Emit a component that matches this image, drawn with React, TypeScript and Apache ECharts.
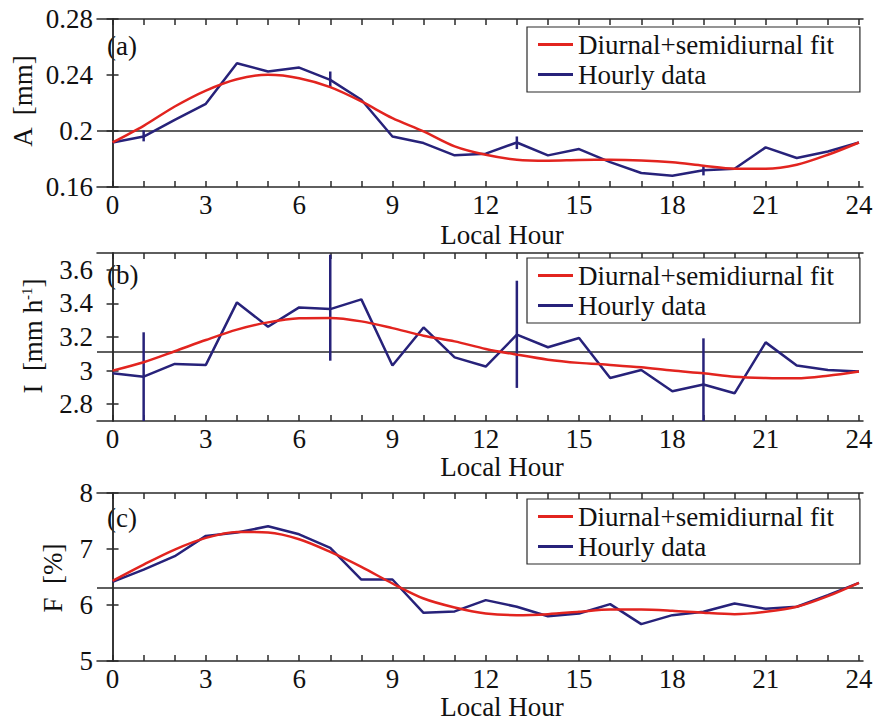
import React, { useEffect, useRef } from "react";
import * as echarts from "echarts";

const HOURS = [0, 1, 2, 3, 4, 5, 6, 7, 8, 9, 10, 11, 12, 13, 14, 15, 16, 17, 18, 19, 20, 21, 22, 23, 24];
const X_LABELS = [0, 3, 6, 9, 12, 15, 18, 21, 24];

// Panel (a): A [mm]
const FIT_A = [0.1918, 0.2037, 0.2175, 0.2289, 0.237, 0.2401, 0.2377, 0.2313, 0.2211, 0.2092, 0.1997, 0.189, 0.183, 0.1795, 0.1788, 0.1793, 0.1795, 0.179, 0.1776, 0.1752, 0.1731, 0.1731, 0.1759, 0.183, 0.1918];
const DATA_A = [0.1918, 0.196, 0.208, 0.2194, 0.2484, 0.2425, 0.2453, 0.2365, 0.2223, 0.1961, 0.1914, 0.1826, 0.1838, 0.1918, 0.1826, 0.1871, 0.1778, 0.170, 0.1681, 0.1719, 0.1731, 0.1883, 0.1807, 0.1854, 0.1918];
const ERR_HOURS = [1, 7, 13, 19];
const ERR_A_LOW = [0.1926, 0.2313, 0.1871, 0.1683];
const ERR_A_HIGH = [0.2004, 0.2425, 0.1961, 0.1747];
const TICKS_A = [0.16, 0.2, 0.24, 0.28];

// Panel (b): I [mm h-1]
const FIT_B = [3.0, 3.05, 3.115, 3.182, 3.244, 3.287, 3.311, 3.313, 3.293, 3.253, 3.208, 3.174, 3.129, 3.095, 3.065, 3.046, 3.034, 3.02, 3.0, 2.984, 2.964, 2.956, 2.954, 2.97, 2.995];
const DATA_B = [2.984, 2.964, 3.04, 3.034, 3.406, 3.261, 3.376, 3.366, 3.424, 3.03, 3.257, 3.079, 3.024, 3.214, 3.139, 3.194, 2.956, 3.004, 2.877, 2.917, 2.865, 3.168, 3.03, 3.004, 2.994];
const ERR_B_LOW = [2.7, 3.059, 2.897, 2.7];
const ERR_B_HIGH = [3.228, 3.69, 3.535, 3.192];
const TICKS_B = [2.8, 3, 3.2, 3.4, 3.6];

// Panel (c): F [%]
const FIT_C = [6.431, 6.722, 6.99, 7.198, 7.305, 7.293, 7.174, 6.948, 6.681, 6.384, 6.116, 5.956, 5.849, 5.819, 5.837, 5.879, 5.92, 5.92, 5.897, 5.861, 5.837, 5.879, 5.968, 6.158, 6.396];
const DATA_C = [6.414, 6.633, 6.871, 7.234, 7.293, 7.406, 7.263, 7.02, 6.455, 6.455, 5.861, 5.885, 6.087, 5.968, 5.80, 5.849, 6.015, 5.659, 5.819, 5.879, 6.027, 5.932, 5.968, 6.176, 6.396];
const TICKS_C = [5, 6, 7, 8];

const MEANS = [0.1975, 3.11, 6.31];
const Y_RANGES = [[0.16, 0.28], [2.7, 3.7], [5, 8]];
const PANEL_LABELS = ["(a)", "(b)", "(c)"];
const FIT_NAME = "Diurnal+semidiurnal fit";
const DATA_NAME = "Hourly data";

const RED = "#e2241f";
const BLUE = "#27227a";
const AXIS = "#2a2a2a";
const FONT = "'Liberation Serif', 'Times New Roman', serif";
const FS = 27;

export default function App() {
  const ref = useRef<HTMLDivElement>(null);
  useEffect(() => {
    document.body.style.margin = "0";
    if (!ref.current) return;
    const chart = echarts.init(ref.current, null, { renderer: "svg" });

    const tops = [19, 253, 493];
    const H = 168;
    const gridLeft = 97;
    const gridRight = 15;
    const legendTops = [27, 258, 499];
    const yTicks = [TICKS_A, TICKS_B, TICKS_C];
    const fits = [FIT_A, FIT_B, FIT_C];
    const datas = [DATA_A, DATA_B, DATA_C];
    const errs: (number[][] | null)[] = [
      ERR_HOURS.map((h, i) => [h, ERR_A_LOW[i], ERR_A_HIGH[i]]),
      ERR_HOURS.map((h, i) => [h, ERR_B_LOW[i], ERR_B_HIGH[i]]),
      null,
    ];

    const grid: any[] = [];
    const xAxis: any[] = [];
    const yAxis: any[] = [];
    const series: any[] = [];
    const legend: any[] = [];
    const graphic: any[] = [];

    const lineStyle = { color: AXIS, width: 1.5 };

    for (let p = 0; p < 3; p++) {
      grid.push({ left: gridLeft, right: gridRight, top: tops[p], height: H, containLabel: false });
      const xBase = {
        type: "value",
        gridIndex: p,
        min: -0.5,
        max: 24.13,
        splitLine: { show: false },
        axisLine: { show: true, lineStyle },
        axisTick: { show: true, inside: true, length: 6, lineStyle, customValues: HOURS },
      };
      xAxis.push({
        ...xBase,
        position: "bottom",
        axisLabel: {
          show: true,
          customValues: X_LABELS,
          fontSize: FS,
          fontFamily: FONT,
          color: "#111",
          margin: 8,
          lineHeight: 20,
        },
      });
      xAxis.push({ ...xBase, position: "top", axisLabel: { show: false } });

      const yBase = {
        type: "value",
        gridIndex: p,
        min: Y_RANGES[p][0],
        max: Y_RANGES[p][1],
        splitLine: { show: false },
        axisLine: { show: true, lineStyle },
        axisTick: { show: true, inside: true, length: 6, lineStyle, customValues: yTicks[p] },
      };
      yAxis.push({
        ...yBase,
        position: "left",
        axisLabel: { show: true, customValues: yTicks[p], fontSize: FS, fontFamily: FONT, color: "#111", margin: 4 },
      });
      yAxis.push({ ...yBase, position: "right", axisLabel: { show: false } });

      series.push({
        type: "line",
        name: FIT_NAME,
        xAxisIndex: p * 2,
        yAxisIndex: p * 2,
        data: HOURS.map((h, i) => [h, fits[p][i]]),
        showSymbol: false,
        smooth: 0.3,
        lineStyle: { color: RED, width: 2.5 },
        itemStyle: { color: RED },
        z: 4,
        markLine: {
          silent: true,
          symbol: "none",
          label: { show: false },
          lineStyle: { color: AXIS, width: 1.5, type: "solid" },
          data: [{ yAxis: MEANS[p] }],
          z: 1,
        },
      });
      series.push({
        type: "line",
        name: DATA_NAME,
        xAxisIndex: p * 2,
        yAxisIndex: p * 2,
        data: HOURS.map((h, i) => [h, datas[p][i]]),
        showSymbol: false,
        lineStyle: { color: BLUE, width: 2.5 },
        itemStyle: { color: BLUE },
        z: 3,
      });
      const e = errs[p];
      if (e) {
        series.push({
          type: "custom",
          name: "Error " + p,
          xAxisIndex: p * 2,
          yAxisIndex: p * 2,
          data: e,
          z: 3,
          renderItem: (params: any, api: any) => {
            const x = api.value(0);
            const a = api.coord([x, api.value(1)]);
            const b = api.coord([x, api.value(2)]);
            return {
              type: "line",
              shape: { x1: a[0], y1: a[1], x2: b[0], y2: b[1] },
              style: { stroke: BLUE, lineWidth: 2.5 },
            };
          },
        });
      }

      legend.push({
        show: true,
        data: [FIT_NAME, DATA_NAME],
        orient: "vertical",
        left: 527,
        top: legendTops[p],
        icon: "rect",
        itemWidth: 35,
        itemHeight: 3,
        itemGap: 3,
        itemTextGap: 13,
        padding: [4, 26, 4, 11],
        borderColor: AXIS,
        borderWidth: 1.2,
        backgroundColor: "#fff",
        selectedMode: false,
        textStyle: { fontSize: FS, fontFamily: FONT, color: "#111", lineHeight: 24 },
      });

      graphic.push({
        type: "text",
        left: 107,
        top: [32, 261, 504][p],
        style: { text: PANEL_LABELS[p], font: `${FS}px ${FONT}`, fill: "#111" },
      });
      graphic.push({
        type: "text",
        x: 502,
        y: [235, 467, 707][p],
        style: {
          text: "Local Hour",
          font: `${FS}px ${FONT}`,
          fill: "#111",
          textAlign: "center",
          textVerticalAlign: "middle",
          lineHeight: 20,
        },
      });
    }

    // Y axis names (rotated)
    graphic.push({
      type: "text",
      x: 23,
      y: 101,
      rotation: Math.PI / 2,
      style: { text: "A  [mm]", font: `${FS}px ${FONT}`, fill: "#111", textAlign: "center", textVerticalAlign: "middle" },
    });
    graphic.push({
      type: "text",
      x: 33,
      y: 336,
      rotation: Math.PI / 2,
      style: {
        text: "{n|I  [mm h}{s|-1}{n|]}",
        textAlign: "center",
        textVerticalAlign: "middle",
        rich: {
          n: { fontSize: FS, fontFamily: FONT, fill: "#111", color: "#111" },
          s: { fontSize: 15, fontFamily: FONT, fill: "#111", color: "#111", padding: [0, 0, 12, 0] },
        },
      },
    });
    graphic.push({
      type: "text",
      x: 53,
      y: 578,
      rotation: Math.PI / 2,
      style: { text: "F  [%]", font: `${FS}px ${FONT}`, fill: "#111", textAlign: "center", textVerticalAlign: "middle" },
    });

    chart.setOption({
      animation: false,
      backgroundColor: "#fff",
      grid,
      xAxis,
      yAxis,
      series,
      legend,
      graphic,
    });
    return () => chart.dispose();
  }, []);
  return <div ref={ref} style={{ width: 878, height: 721 }} />;
}
